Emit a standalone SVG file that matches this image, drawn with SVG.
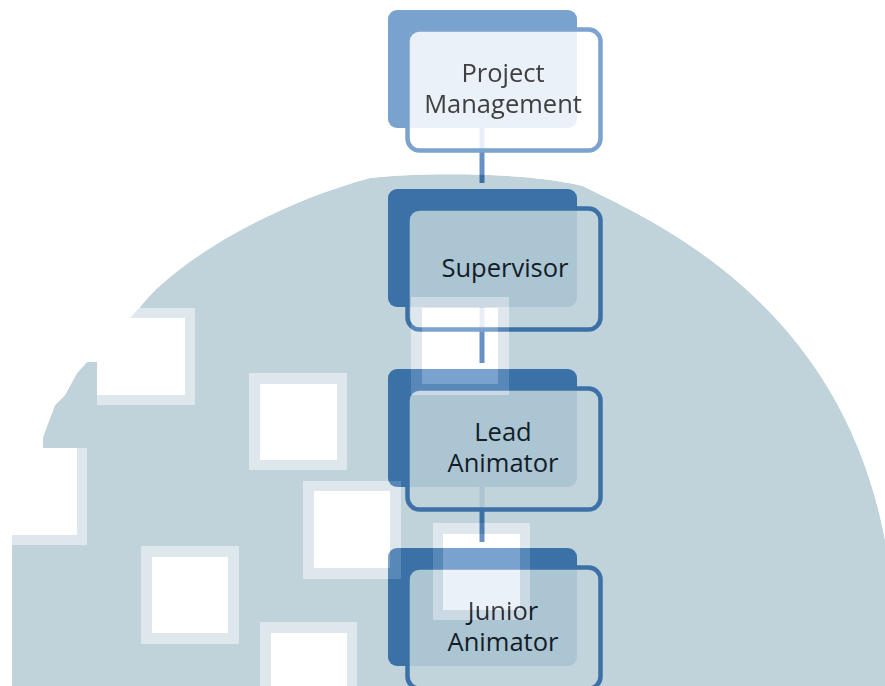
<svg xmlns="http://www.w3.org/2000/svg" xmlns:xlink="http://www.w3.org/1999/xlink" width="885" height="686" viewBox="0 0 885 686">
<style>
svg { --back:#3a71a6; --frame:#3b71a7; --frame-fill:#c1d3da; --conn:#3c70a5; --text:#121d28; }
.light { --back:#7aa2ce; --frame:#7ba3cf; --frame-fill:#ffffff; --conn:#6790c4; --text:#404040; }
.bg-shape { fill:#c1d3da; }
.back { fill:var(--back); }
.frame { fill:var(--frame-fill); fill-opacity:0.85; stroke:var(--frame); stroke-width:4.5; }
.conn { stroke:var(--conn); stroke-width:5; fill:none; }
.label { fill:var(--text); font-family:"Open Sans","Noto Sans",sans-serif; font-size:25.5px; text-anchor:middle; }
</style>
<defs>
  <path id="blueShape" d="M 12 686 L 12 448 L 43 448 L 43 437 L 55 405 L 65 395 L 77 373 L 87 362 L 97 362 L 97 318 L 130 318 L 140 307 C 175 262 270 205 370 178 C 420 172 530 172 583 186 C 650 220 840 300 885 540 L 895 600 L 895 686 Z"/>
  <mask id="lightMask" maskUnits="userSpaceOnUse" x="0" y="0" width="885" height="686">
    <rect x="0" y="0" width="885" height="686" fill="#fff"/>
    <use xlink:href="#blueShape" href="#blueShape" fill="#000"/>
    <g fill="#777">
      <rect x="97" y="308" width="98" height="97"/>
      <rect x="-11" y="448" width="98" height="97"/>
      <rect x="249" y="373" width="98" height="97"/>
      <rect x="303" y="481" width="98" height="98"/>
      <rect x="141" y="546" width="98" height="98"/>
      <rect x="260" y="622" width="97" height="80"/>
      <rect x="411" y="297" width="98" height="98"/>
      <rect x="433" y="523" width="97" height="97"/>
    </g>
    <g fill="#fff">
      <rect x="97" y="318" width="88" height="77"/>
      <rect x="-11" y="448" width="88" height="87"/>
      <rect x="260" y="384" width="77" height="76"/>
      <rect x="314" y="491" width="76" height="77"/>
      <rect x="152" y="557" width="76" height="76"/>
      <rect x="271" y="633" width="76" height="60"/>
      <rect x="422" y="308" width="76" height="76"/>
      <rect x="443" y="534" width="77" height="76"/>
    </g>
  </mask>
</defs>

<g id="background">
  <rect x="0" y="0" width="885" height="686" fill="#ffffff"/>
  <use xlink:href="#blueShape" href="#blueShape" class="bg-shape"/>
</g>

<g id="diagram">
  <g id="connectors">
    <line class="conn" x1="482" y1="128" x2="482" y2="183"/>
    <line class="conn" x1="482" y1="307" x2="482" y2="363"/>
    <line class="conn" x1="482" y1="487" x2="482" y2="542"/>
  </g>
  <g id="node-project-management">
    <rect class="back" x="388" y="10" width="189" height="118" rx="9"/>
    <rect class="frame" x="407.5" y="29.5" width="193" height="121" rx="12"/>
    <text class="label" x="503" y="82">Project</text>
    <text class="label" x="503" y="113">Management</text>
  </g>
  <g id="node-supervisor">
    <rect class="back" x="388" y="189" width="189" height="118" rx="9"/>
    <rect class="frame" x="407.5" y="208.5" width="193" height="121" rx="12"/>
    <text class="label" x="505" y="277">Supervisor</text>
  </g>
  <g id="node-lead-animator">
    <rect class="back" x="388" y="369" width="189" height="118" rx="9"/>
    <rect class="frame" x="407.5" y="388.5" width="193" height="121" rx="12"/>
    <text class="label" x="503" y="441">Lead</text>
    <text class="label" x="503" y="472">Animator</text>
  </g>
  <g id="node-junior-animator">
    <rect class="back" x="388" y="548" width="189" height="118" rx="9"/>
    <rect class="frame" x="407.5" y="567.5" width="193" height="121" rx="12"/>
    <text class="label" x="503" y="620">Junior</text>
    <text class="label" x="503" y="651">Animator</text>
  </g>
</g>

<g id="light-overlay" class="light" mask="url(#lightMask)">
  <rect x="0" y="0" width="885" height="686" fill="#ffffff"/>
  <use xlink:href="#diagram" href="#diagram"/>
</g>
</svg>
